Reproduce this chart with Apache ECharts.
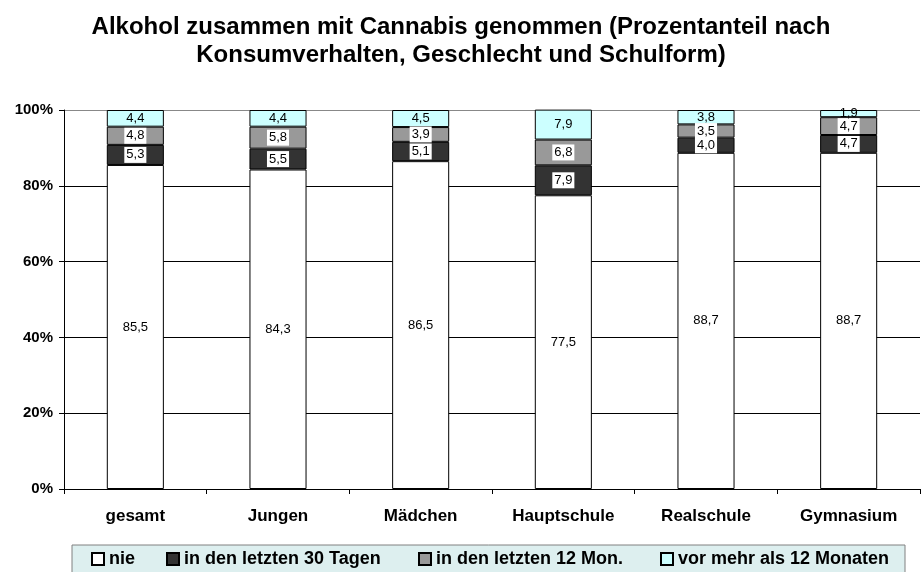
<!DOCTYPE html>
<html>
<head>
<meta charset="utf-8">
<script src="https://cdn.jsdelivr.net/npm/echarts@6/dist/echarts.min.js"></script>
<style>
  html, body { margin: 0; padding: 0; background: #ffffff; }
  #chart { width: 922px; height: 572px; }
</style>
</head>
<body>
<div id="chart"></div>
<script>
// ---- data ----
const categories = ['gesamt', 'Jungen', 'Mädchen', 'Hauptschule', 'Realschule', 'Gymnasium'];
const seriesNames = ['nie', 'in den letzten 30 Tagen', 'in den letzten 12 Mon.', 'vor mehr als 12 Monaten'];
const nie        = [85.5, 84.3, 86.5, 77.5, 88.7, 88.7];
const letzte30   = [5.3, 5.5, 5.1, 7.9, 4.0, 4.7];
const letzte12   = [4.8, 5.8, 3.9, 6.8, 3.5, 4.7];
const vorMehr12  = [4.4, 4.4, 4.5, 7.9, 3.8, 1.9];
const yTicks     = [0, 20, 40, 60, 80, 100];

// ---- styling ----
const FONT = '"Liberation Sans", Arial, Helvetica, sans-serif';
const colors = ['#ffffff', '#333333', '#999999', '#ccffff'];
const labelBg = ['transparent', '#ffffff', '#ffffff', 'transparent'];
const legendLeft = [91, 166, 418, 660];
const valueSets = [nie, letzte30, letzte12, vorMehr12];

const fmt = p => p.value.toFixed(1).replace('.', ',');

const series = seriesNames.map((name, i) => ({
  name: name,
  type: 'bar',
  stack: 'total',
  barWidth: '40%',
  data: valueSets[i],
  itemStyle: { color: colors[i], borderColor: '#000000', borderWidth: 1 },
  label: {
    show: true,
    position: 'inside',
    formatter: fmt,
    color: '#000000',
    fontFamily: FONT,
    fontSize: 13,
    backgroundColor: labelBg[i],
    padding: [2, 2, 1, 2]
  },
  emphasis: { disabled: true }
}));

const legends = seriesNames.map((name, i) => ({
  data: [name],
  left: legendLeft[i],
  top: 550,
  padding: 0,
  itemWidth: 12,
  itemHeight: 12,
  icon: 'rect',
  selectedMode: false,
  textStyle: { fontFamily: FONT, fontSize: 18, fontWeight: 'bold', color: '#000000', lineHeight: 18 }
}));

const chart = echarts.init(document.getElementById('chart'), null, { renderer: 'canvas' });
chart.setOption({
  animation: false,
  backgroundColor: '#ffffff',
  title: {
    text: 'Alkohol zusammen mit Cannabis genommen (Prozentanteil nach\nKonsumverhalten, Geschlecht und Schulform)',
    left: 'center',
    top: 8,
    textStyle: { fontFamily: FONT, fontSize: 24, fontWeight: 'bold', color: '#000000', lineHeight: 28 }
  },
  graphic: [{
    type: 'rect',
    z: 0,
    shape: { x: 72, y: 545, width: 833, height: 40 },
    style: { fill: '#ddefef', stroke: '#808080', lineWidth: 1 }
  }],
  legend: legends,
  grid: { left: 64, right: 2, top: 110, bottom: 83, containLabel: false },
  xAxis: {
    type: 'category',
    data: categories,
    axisLine: { lineStyle: { color: '#000000', width: 1 } },
    axisTick: { show: true, length: 5, lineStyle: { color: '#000000' } },
    axisLabel: { margin: 19, fontFamily: FONT, fontSize: 17, fontWeight: 'bold', color: '#000000' }
  },
  yAxis: {
    type: 'value',
    min: yTicks[0],
    max: yTicks[yTicks.length - 1],
    interval: yTicks[1] - yTicks[0],
    axisLine: { show: true, lineStyle: { color: '#000000', width: 1 } },
    axisTick: { show: true, length: 5, lineStyle: { color: '#000000' } },
    axisLabel: { margin: 11, formatter: '{value}%', fontFamily: FONT, fontSize: 15, fontWeight: 'bold', color: '#000000' },
    splitLine: { show: true, lineStyle: { color: ['#000000', '#000000', '#000000', '#000000', '#000000', '#888888'], width: 1 } }
  },
  series: series
});
</script>
</body>
</html>
